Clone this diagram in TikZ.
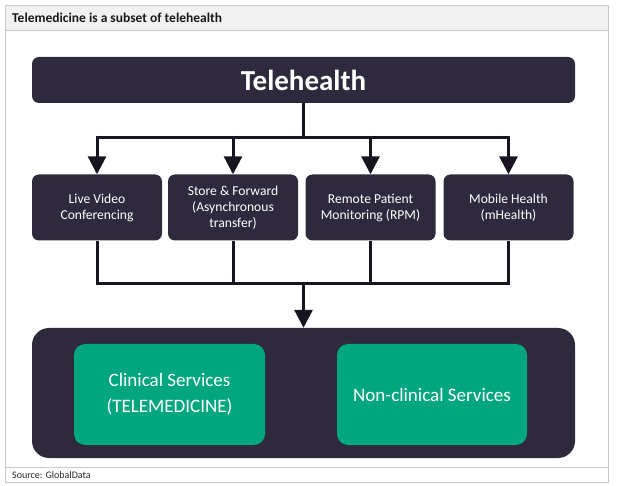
\documentclass[tikz,border=0pt]{standalone}
\usepackage{fontspec}
\setmainfont{Carlito}
\usetikzlibrary{arrows.meta}
\definecolor{darkbox}{RGB}{46,41,61}
\definecolor{linecol}{RGB}{24,21,32}
\definecolor{greenbox}{RGB}{0,166,126}
\definecolor{framegray}{RGB}{200,200,200}
\definecolor{titlebg}{RGB}{241,241,241}
\tikzset{
  darknode/.style={fill=darkbox, draw=none, rounded corners=7pt, text=white, align=center, inner sep=0pt},
  catbox/.style={darknode, minimum width=130pt, minimum height=66pt, font=\fontsize{13.6}{16}\selectfont},
  greennode/.style={fill=greenbox, draw=none, rounded corners=11pt, text=white, align=center, inner sep=0pt, minimum height=101pt, font=\fontsize{19}{26}\selectfont},
  conn/.style={draw=linecol, line width=3pt},
  arr/.style={conn, -{Triangle[width=18pt,length=18pt]}},
}
\begin{document}
\begin{tikzpicture}[x=1pt,y=-1pt]
\useasboundingbox (0,0) rectangle (624,486);
% frame
\fill[titlebg] (5,5) rectangle (608,30);
\draw[framegray, line width=0.8pt] (5,5) rectangle (608,482);
\draw[framegray, line width=0.8pt] (5,30) -- (608,30);
\draw[framegray, line width=0.8pt] (5,467) -- (608,467);
\node[anchor=west, font=\fontsize{13.5}{15}\selectfont\bfseries, text=black!90, inner sep=0pt] (title) at (12,18) {Telemedicine is a subset of telehealth};
\node[anchor=west, font=\fontsize{10}{11}\selectfont, text=black!85, inner sep=0pt] (source) at (12,475.5) {Source: GlobalData};

% top bar
\node[darknode, minimum width=543pt, minimum height=46pt, font=\fontsize{29}{32}\selectfont\bfseries] (tele) at (303.5,80) {Telehealth};

% category boxes
\node[catbox] (b1) at (97,207.5) {Live Video\\Conferencing};
\node[catbox] (b2) at (233,207.5) {Store \& Forward\\(Asynchronous\\transfer)};
\node[catbox] (b3) at (370.5,207.5) {Remote Patient\\Monitoring (RPM)};
\node[catbox] (b4) at (508.5,207.5) {Mobile Health\\(mHealth)};

% bottom container
\node[darknode, rounded corners=17pt, minimum width=543pt, minimum height=130pt] (cont) at (303.5,393) {};
\node[greennode, minimum width=191pt] (g1) at (169.5,394.5) {Clinical Services\\(TELEMEDICINE)};
\node[greennode, minimum width=190pt] (g2) at (432,394.5) {Non-clinical Services};

% connectors
\coordinate (j1) at (303.5,138);
\coordinate (j2) at (303.5,284);
\draw[conn] (tele.south) -- (j1);
\draw[arr] (j1) -| (b1.north);
\draw[arr] (j1) -| (b2.north);
\draw[arr] (j1) -| (b3.north);
\draw[arr] (j1) -| (b4.north);
\draw[conn, line join=miter] (b1.south) |- (j2) -| (b4.south);
\draw[conn] (b2.south) -- (b2.south |- j2);
\draw[conn] (b3.south) -- (b3.south |- j2);
\draw[arr] (j2) -- (cont.north);
\end{tikzpicture}
\end{document}
